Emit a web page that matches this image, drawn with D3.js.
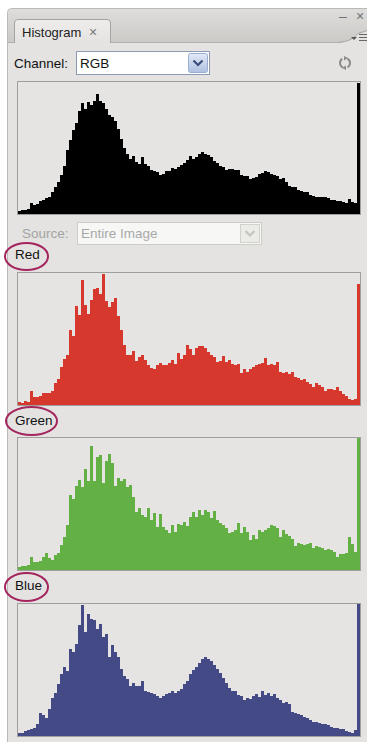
<!DOCTYPE html>
<html><head><meta charset="utf-8">
<script src="https://cdn.jsdelivr.net/npm/d3@7"></script>
<style>html,body{margin:0;padding:0;background:#fff;}svg{display:block;}</style>
</head><body>
<script>
// ---- data (relative counts per bin) ----
const channels = ["RGB", "Red", "Green", "Blue"];
const rgbValues = [3,4,4,5,11,9,10,13,14,16,17,22,27,32,39,48,64,75,85,92,104,112,106,113,110,114,121,114,112,106,100,98,94,86,76,66,60,55,58,52,50,57,50,48,44,43,42,39,40,43,43,46,45,47,49,51,54,58,55,57,60,62,60,59,57,53,51,48,47,44,45,45,44,44,39,38,38,35,36,37,40,41,43,42,40,39,38,35,36,32,28,27,27,24,23,22,22,19,18,17,17,17,17,16,14,14,13,13,12,11,15,12,11,132];
const redValues = [3,2,4,3,14,8,8,9,12,12,12,14,22,26,38,46,50,76,70,100,91,126,101,92,106,117,118,112,132,105,99,104,108,90,76,60,50,50,54,44,48,50,45,40,37,36,40,42,40,40,42,45,41,52,46,50,60,56,50,57,59,59,57,53,50,48,43,44,49,43,45,41,40,41,32,36,33,36,38,40,41,42,47,40,41,40,43,33,32,33,31,33,28,27,25,26,23,21,18,22,20,18,14,16,16,15,18,14,11,9,6,5,6,122];
const greenValues = [3,4,4,5,13,8,8,9,13,17,12,10,15,17,25,33,45,76,72,85,91,84,102,90,125,90,114,116,88,110,117,108,85,93,90,92,84,86,74,58,62,55,53,62,50,57,43,56,43,40,37,45,38,46,45,48,44,53,58,53,60,55,60,58,52,59,50,47,45,42,37,38,40,47,37,43,38,30,35,31,40,38,40,42,45,44,42,33,40,36,34,31,24,27,26,25,26,27,22,24,23,22,20,21,20,18,13,16,16,17,33,26,18,133];
const blueValues = [3,3,5,6,7,8,12,23,21,18,27,38,43,52,62,70,65,88,85,93,112,132,105,123,118,117,108,113,100,103,80,92,85,80,68,60,57,50,53,50,50,55,45,44,43,42,40,38,40,42,43,45,43,45,47,52,55,62,66,70,74,78,80,78,76,72,68,63,58,53,48,45,45,41,40,36,38,37,40,42,39,45,41,43,40,42,38,36,33,34,32,24,23,22,21,19,18,16,14,14,13,12,12,11,9,8,8,7,7,5,4,3,6,133];
const labels = ["Red", "Green", "Blue"];
const channelText = "Channel:";
const channelChoice = "RGB";
const sourceText = "Source:";
const sourceChoice = "Entire Image";
const tabText = "Histogram";

// ---- layout ----
const W = 367, H = 742;
const FONT = "'Liberation Sans', Arial, sans-serif";
const svg = d3.select("body").append("svg").attr("width", W).attr("height", H);
const defs = svg.append("defs");
const g1 = defs.append("linearGradient").attr("id","hdr").attr("x1",0).attr("y1",0).attr("x2",0).attr("y2",1);
g1.append("stop").attr("offset",0).attr("stop-color","#dedddb");
g1.append("stop").attr("offset",1).attr("stop-color","#cbcac7");
const g2 = defs.append("linearGradient").attr("id","btn").attr("x1",0).attr("y1",0).attr("x2",0).attr("y2",1);
g2.append("stop").attr("offset",0).attr("stop-color","#e3eaf7");
g2.append("stop").attr("offset",1).attr("stop-color","#aebfe0");
const g3 = defs.append("linearGradient").attr("id","tab").attr("x1",0).attr("y1",0).attr("x2",0).attr("y2",1);
g3.append("stop").attr("offset",0).attr("stop-color","#eeedeb");
g3.append("stop").attr("offset",1).attr("stop-color","#e4e3e1");

const PANEL = "#e4e3e1";
// panel body
svg.append("rect").attr("x",7.5).attr("y",8.5).attr("width",372).attr("height",745).attr("rx",4)
  .attr("fill",PANEL).attr("stroke","#b9b9b7");
// header
svg.append("path").attr("d","M8,42 L8,13 Q8,9 12,9 L367,9 L367,42 Z").attr("fill","url(#hdr)");
svg.append("line").attr("x1",8).attr("x2",367).attr("y1",42.5).attr("y2",42.5).attr("stroke","#b3b2af");
// tab
svg.append("path").attr("d","M14.5,43 L14.5,23 Q14.5,19.5 18,19.5 L107,19.5 Q110.5,19.5 110.5,23 L110.5,43")
  .attr("fill","url(#tab)").attr("stroke","#a5a4a2");
svg.append("rect").attr("x",15).attr("y",41).attr("width",95).attr("height",3).attr("fill","#e4e3e1");
svg.append("text").attr("x",22).attr("y",37).attr("font-family",FONT).attr("font-size",13).attr("fill","#222").text(tabText);
svg.append("text").attr("x",89).attr("y",37).attr("font-family",FONT).attr("font-size",14).attr("fill","#777").text("×");
// top right controls
svg.append("text").attr("x",339).attr("y",21).attr("font-family",FONT).attr("font-size",14).attr("fill","#707070").text("–");
svg.append("text").attr("x",356).attr("y",21).attr("font-family",FONT).attr("font-size",14).attr("fill","#707070").text("×");
svg.append("path").attr("d","M338,43 Q352,42 358,34 L367,31 L367,43 Z").attr("fill","#e4e3e1");
svg.append("path").attr("d","M338,42.5 Q352,41.5 358,33.5 L367,30.5").attr("fill","none").attr("stroke","#a8a7a5");
svg.append("path").attr("d","M351,37 L357,37 L354,40 Z").attr("fill","#555");
[34.5,37.5,40.5].forEach(yy=>svg.append("line").attr("x1",359).attr("x2",367).attr("y1",yy).attr("y2",yy).attr("stroke","#666"));

// channel row
svg.append("text").attr("x",14).attr("y",68).attr("font-family",FONT).attr("font-size",13.5).attr("fill","#111").text(channelText);
svg.append("rect").attr("x",76.5).attr("y",51.5).attr("width",133).attr("height",23).attr("fill","#fff").attr("stroke","#8d9ab3");
svg.append("text").attr("x",80).attr("y",68).attr("font-family",FONT).attr("font-size",13.5).attr("fill","#111").text(channelChoice);
svg.append("rect").attr("x",188.5).attr("y",53.5).attr("width",19).attr("height",19).attr("rx",2).attr("fill","url(#btn)").attr("stroke","#9aaed3");
svg.append("path").attr("d","M193.5,60.5 L198,65 L202.5,60.5").attr("fill","none").attr("stroke","#3c4c7e").attr("stroke-width",2.2);
// refresh icon
const ri = svg.append("g").attr("transform","translate(345,63)").attr("fill","none").attr("stroke","#8b8b8b").attr("stroke-width",2);
ri.append("path").attr("d", d3.arc()({innerRadius:5, outerRadius:5, startAngle:0.5, endAngle:2.6}));
ri.append("path").attr("d", d3.arc()({innerRadius:5, outerRadius:5, startAngle:3.6, endAngle:5.7}));
ri.append("path").attr("d","M-1,-7 L3,-5 L-1,-2.5 Z").attr("fill","#8b8b8b").attr("stroke","none");
ri.append("path").attr("d","M1,7 L-3,5 L1,2.5 Z").attr("fill","#8b8b8b").attr("stroke","none");

// source row (disabled)
svg.append("text").attr("x",22).attr("y",238).attr("font-family",FONT).attr("font-size",13.5).attr("fill","#a3a3a3").text(sourceText);
svg.append("rect").attr("x",77.5).attr("y",222.5).attr("width",184).attr("height",22).attr("fill","#f7f7f5").attr("stroke","#cdcdc6");
svg.append("text").attr("x",81).attr("y",238).attr("font-family",FONT).attr("font-size",13.5).attr("fill","#a8a8a8").text(sourceChoice);
svg.append("rect").attr("x",240.5).attr("y",224.5).attr("width",19).attr("height",18).attr("fill","#ebebe7").attr("stroke","#d2d2cc");
svg.append("path").attr("d","M245.5,231 L250,235.5 L254.5,231").attr("fill","none").attr("stroke","#c4c4c0").attr("stroke-width",2.2);

// ---- histograms ----
const series = [rgbValues, redValues, greenValues, blueValues];
const colors = ["#000000", "#d6382d", "#63b045", "#444a86"];
const tops = [81, 272, 437, 603];
const BOXH = 134, X0 = 17, X1 = 361;
const N = rgbValues.length;
const x = d3.scaleLinear().domain([0, N]).range([X0 + 1, X1 - 1]);

series.forEach((vals, k) => {
  const T = tops[k];
  const y = d3.scaleLinear().domain([0, 133]).range([T + BOXH - 1, T + 1]).clamp(true);
  const g = svg.append("g").attr("class","hist-" + channels[k]);
  g.append("rect").attr("x", X0 + 0.5).attr("y", T + 0.5).attr("width", X1 - X0 - 1).attr("height", BOXH - 1)
    .attr("fill", "#e5e4e2").attr("stroke", "#9f9f9d");
  g.selectAll("rect.bar").data(vals).join("rect").attr("class","bar")
    .attr("shape-rendering","crispEdges")
    .attr("x", (d,i) => x(i))
    .attr("width", (d,i) => x(i+1) - x(i))
    .attr("y", d => y(d))
    .attr("height", d => y(0) - y(d))
    .attr("fill", colors[k]);
});

// ---- channel labels with circles ----
const labelBase = [259, 425, 590];
const ell = [{cx:26.5, cy:256.5, rx:21.5, ry:13.5}, {cx:31.5, cy:421, rx:25.5, ry:14}, {cx:26.5, cy:587, rx:21.5, ry:14}];
labels.forEach((t, i) => {
  svg.append("text").attr("x", 15).attr("y", labelBase[i]).attr("font-family", FONT).attr("font-size", 13.5).attr("fill", "#111").text(t);
  svg.append("ellipse").attr("cx", ell[i].cx).attr("cy", ell[i].cy).attr("rx", ell[i].rx).attr("ry", ell[i].ry)
    .attr("fill","none").attr("stroke","#a4245d").attr("stroke-width",2);
});
</script>
</body></html>
